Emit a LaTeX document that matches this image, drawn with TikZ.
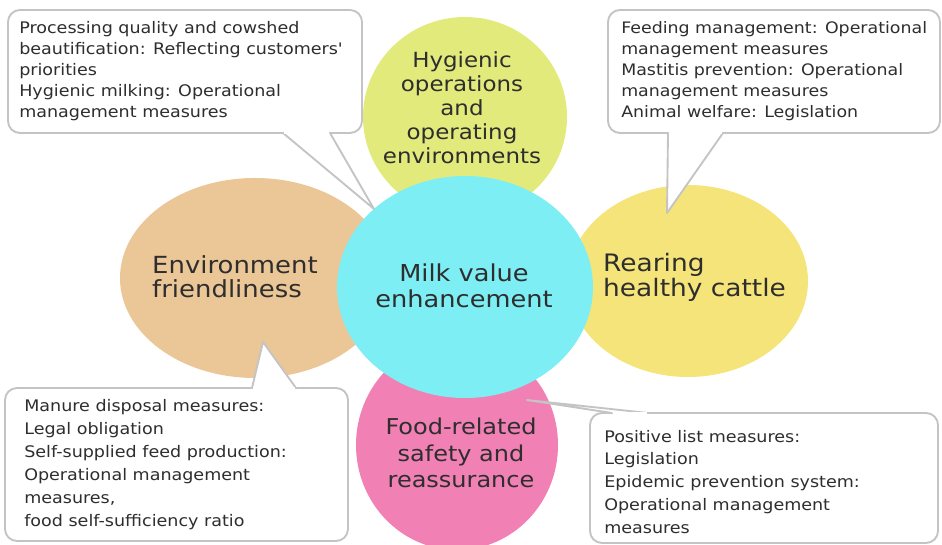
\documentclass[tikz,border=0pt]{standalone}
\usepackage{fontspec}
\setmainfont{DejaVu Sans}[FakeStretch=1.1]
\usepackage{tikz}
\usetikzlibrary{shapes.geometric, positioning}

\definecolor{hygcol}{HTML}{E2EA7C}
\definecolor{envcol}{HTML}{EBC696}
\definecolor{reacol}{HTML}{F5E47A}
\definecolor{foodcol}{HTML}{F180B4}
\definecolor{milkcol}{HTML}{7EEEF5}
\definecolor{inkcol}{HTML}{2E2E2E}
\definecolor{rimcol}{HTML}{C4C4C4}

\tikzstyle{petal} = [ellipse, inner sep=0pt]
\tikzstyle{petaltext} = [inner sep=0pt, align=center, text=inkcol]
\tikzstyle{callbox} = [draw=rimcol, line width=1.6pt, rounded corners=0.36cm, fill=white, inner sep=0pt]
\tikzstyle{calltext} = [inner sep=0pt, align=left, text=inkcol]
\tikzstyle{callline} = [draw=rimcol, line width=1.6pt, line join=round]
\tikzstyle{seam} = [white, line width=2.2pt, shorten <=1pt, shorten >=1pt]

\begin{document}
\begin{tikzpicture}[x=0.03cm, y=-0.03cm]
	\useasboundingbox (0,0) rectangle (942,545);

	% petals and centre
	\node[petal, fill=hygcol, minimum width=6.12cm, minimum height=6.0cm] (hyg) at (465,117) {};
	\node[petal, fill=envcol, minimum width=8.1cm, minimum height=6.0cm] (env) at (255,278) {};
	\node[petal, fill=reacol, minimum width=7.2cm, minimum height=5.76cm] (rea) at (688,281) {};
	\node[petal, fill=foodcol, minimum width=6.06cm, minimum height=6.3cm] (food) at (457,445) {};
	\node[petal, fill=milkcol, minimum width=7.68cm, minimum height=6.66cm] (milk) at (465,287) {};

	\node[petaltext, font=\fontsize{17.8}{20.4}\selectfont] (hygtext) at (462,108)
		{Hygienic\\operations\\and\\operating\\environments};
	\node[petaltext, align=left, anchor=west, font=\fontsize{20.1}{20.8}\selectfont] (envtext) at (152,277)
		{Environment\\friendliness};
	\node[petaltext, align=left, anchor=west, font=\fontsize{20.5}{21.5}\selectfont] (reatext) at (603,277)
		{Rearing\\healthy cattle};
	\node[petaltext, font=\fontsize{19.9}{22}\selectfont] (milktext) at (464,286)
		{Milk value\\enhancement};
	\node[petaltext, font=\fontsize{18.6}{22.5}\selectfont] (foodtext) at (461,453)
		{Food-related\\safety and\\reassurance};

	% callouts
	\node[callbox, minimum width=10.62cm, minimum height=3.69cm] (tlbox) at (185,71.5) {};
	\node[callbox, minimum width=9.96cm, minimum height=3.69cm] (trbox) at (774,71.5) {};
	\node[callbox, minimum width=10.29cm, minimum height=4.59cm] (blbox) at (176.5,464.5) {};
	\node[callbox, minimum width=10.44cm, minimum height=3.9cm] (brbox) at (764,478) {};

	\coordinate (tla) at (283,133); \coordinate (tlb) at (330,133); \coordinate (tltip) at (374,209);
	\coordinate (tra) at (668,133); \coordinate (trb) at (723,133); \coordinate (trtip) at (667,213);
	\coordinate (bla) at (252,388); \coordinate (blb) at (296,388); \coordinate (bltip) at (263,342);
	\coordinate (bra) at (612,413); \coordinate (brb) at (648,413); \coordinate (brtip) at (527,400);

	\foreach \a/\b/\t in {tla/tlb/tltip, tra/trb/trtip, bla/blb/bltip, bra/brb/brtip} {
		\draw[callline, fill=white] (\a) -- (\t) -- (\b);
		\draw[seam] (\a) -- (\b);
	}

	\node[calltext, right=0.36cm of tlbox.west, font=\fontsize{13.6}{17.9}\selectfont] (tltext)
		{Processing quality and cowshed\\beautification: Reflecting customers\textquotesingle\\priorities\\Hygienic milking: Operational\\management measures};
	\node[calltext, right=0.42cm of trbox.west, font=\fontsize{13.5}{17.9}\selectfont] (trtext)
		{Feeding management: Operational\\management measures\\Mastitis prevention: Operational\\management measures\\Animal welfare: Legislation};
	\node[calltext, right=0.6cm of blbox.west, font=\fontsize{13.6}{19.6}\selectfont] (bltext)
		{Manure disposal measures:\\Legal obligation\\Self-supplied feed production:\\Operational management\\measures,\\food self-sufficiency ratio};
	\node[calltext, right=0.45cm of brbox.west, yshift=-0.12cm, font=\fontsize{13.6}{19.6}\selectfont] (brtext)
		{Positive list measures:\\Legislation\\Epidemic prevention system:\\Operational management\\measures};
\end{tikzpicture}
\end{document}
